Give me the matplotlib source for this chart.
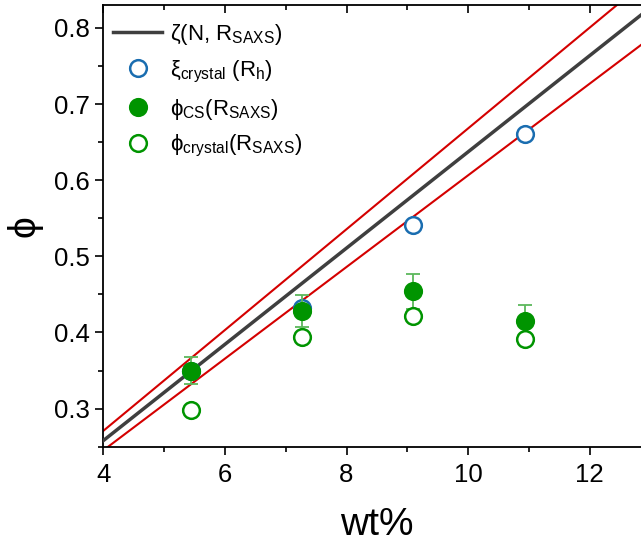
import matplotlib
matplotlib.use("Agg")
import matplotlib.pyplot as plt
import numpy as np
from matplotlib.ticker import MultipleLocator

plt.rcParams['font.family'] = ['Liberation Sans', 'DejaVu Sans']
plt.rcParams['mathtext.fontset'] = 'custom'
plt.rcParams['mathtext.rm'] = 'Liberation Sans'
plt.rcParams['mathtext.it'] = 'Liberation Sans:italic'

# data
wt = [5.44, 7.26, 9.10, 10.94]
xi_crystal = [0.349, 0.432, 0.541, 0.660]
phi_cs = [0.350, 0.428, 0.454, 0.415]
phi_cs_err = [0.018, 0.021, 0.023, 0.021]
phi_crystal = [0.298, 0.394, 0.422, 0.392]

# model lines (slope, intercept)
zeta_line = (0.0632, 0.0052)
upper_line = (0.0662, 0.0060)
lower_line = (0.0602, 0.0044)

green = '#009400'
blue = '#1a6db0'
red = '#d40000'
dark = '#3f3f3f'

fig = plt.figure(figsize=(6.41, 5.45), dpi=100)
ax = fig.add_axes([0.1612, 0.1804, 0.8537, 0.8104])

xl = np.array([3.5, 13.5])
ax.plot(xl, upper_line[0]*xl + upper_line[1], color=red, lw=1.5, zorder=2)
ax.plot(xl, lower_line[0]*xl + lower_line[1], color=red, lw=1.5, zorder=2)
ax.plot(xl, zeta_line[0]*xl + zeta_line[1], color=dark, lw=2.5, zorder=3,
        label=r'ζ(N, R$_{\mathrm{SAXS}}$)')

ax.plot(wt, xi_crystal, 'o', ms=12, mfc='white', mec=blue, mew=1.8, zorder=4,
        label=r'ξ$_{\mathrm{crystal}}$ (R$_{\mathrm{h}}$)')
ax.errorbar(wt, phi_cs, yerr=phi_cs_err, fmt='none', ecolor='#5cb85c', elinewidth=1.3,
            capsize=5, capthick=1.3, zorder=5)
ax.plot(wt, phi_cs, 'o', ms=12, mfc=green, mec=green, mew=1.8, zorder=6,
        label=r'ϕ$_{\mathrm{CS}}$(R$_{\mathrm{SAXS}}$)')
ax.plot(wt, phi_crystal, 'o', ms=12, mfc='white', mec=green, mew=1.8, zorder=6,
        label=r'ϕ$_{\mathrm{crystal}}$(R$_{\mathrm{SAXS}}$)')

ax.set_xlim(4, 13)
ax.set_ylim(0.25, 0.83)
ax.xaxis.set_major_locator(MultipleLocator(2))
ax.xaxis.set_minor_locator(MultipleLocator(1))
ax.yaxis.set_major_locator(MultipleLocator(0.1))
ax.yaxis.set_minor_locator(MultipleLocator(0.05))
ax.yaxis.set_major_formatter(matplotlib.ticker.FormatStrFormatter('%.1f'))

ax.tick_params(axis='both', which='major', direction='out', length=6, width=1.2,
               labelsize=18.5, pad=4, right=False)
ax.tick_params(axis='both', which='minor', direction='out', length=3.5, width=1.2,
               right=False)
ax.tick_params(axis='x', which='major', pad=6)
ax.tick_params(axis='x', which='both', top=True)
# top ticks point inward
for t in ax.xaxis.get_major_ticks() + ax.xaxis.get_minor_ticks():
    t.tick2line.set_marker(matplotlib.lines.TICKDOWN)
for s in ax.spines.values():
    s.set_linewidth(1.3)

ax.set_xlabel('wt%', fontsize=28, labelpad=14)
ax.set_ylabel('ϕ', fontsize=28, labelpad=8)

leg = ax.legend(loc='upper left', bbox_to_anchor=(-0.01, 0.997), frameon=False,
                fontsize=16, handlelength=2.2, handletextpad=0.35,
                labelspacing=0.53, borderaxespad=0.3)

fig.savefig('out.png', dpi=100)
